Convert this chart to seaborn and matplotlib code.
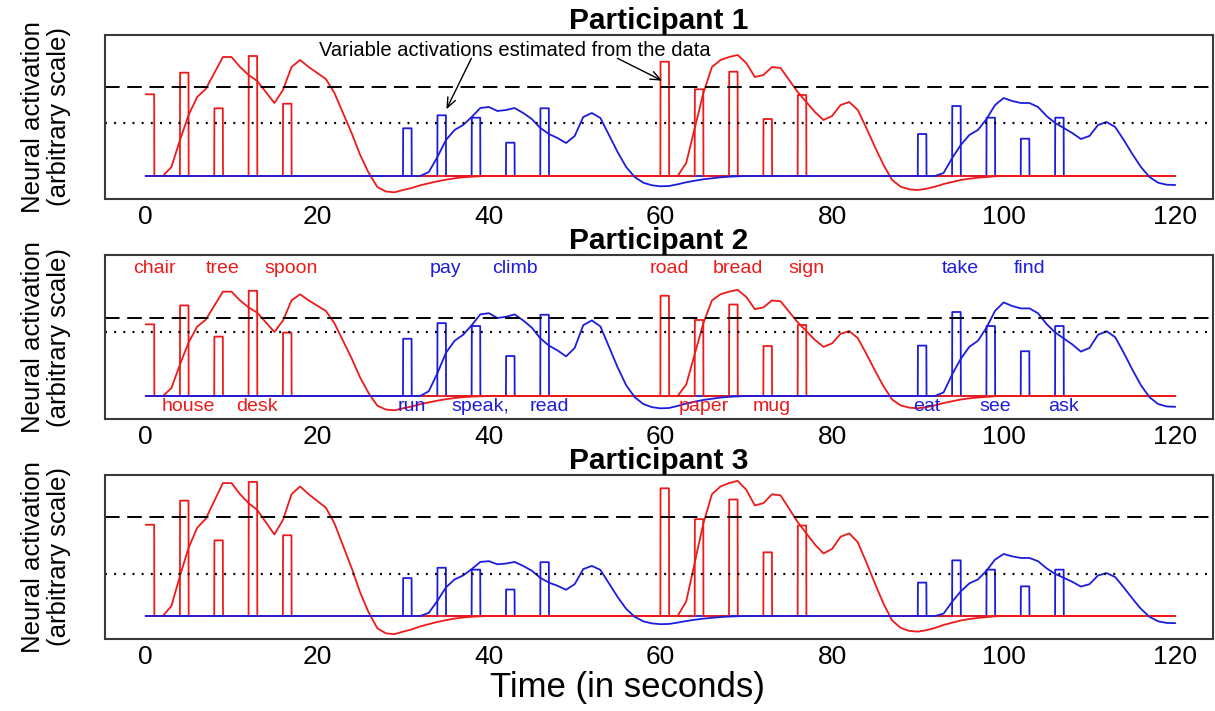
import numpy as np
import pandas as pd
import matplotlib
matplotlib.use("Agg")
import matplotlib.pyplot as plt
import seaborn as sns

# Stimuli: onset (s), estimated activation height, word
red_onsets = [0, 4, 8, 12, 16, 60, 64, 68, 72, 76]
red_heights = [0.817, 1.033, 0.677, 1.20, 0.723, 1.143, 0.867, 1.043, 0.57, 0.81]
red_words = ["chair", "house", "tree", "desk", "spoon", "road", "paper", "bread", "mug", "sign"]

blue_onsets = [30, 34, 38, 42, 46, 90, 94, 98, 102, 106]
blue_heights = [0.477, 0.607, 0.583, 0.333, 0.677, 0.42, 0.70, 0.583, 0.373, 0.583]
blue_words = ["run", "pay", "speak,", "climb", "read", "eat", "take", "see", "find", "ask"]

# Predicted responses, one value per second (0..120)
seconds = list(range(121))
red_curve = (
    [0, 0, 0, 0.09, 0.36, 0.61, 0.79, 0.87, 1.03, 1.19]
    + [1.19, 1.09, 1.01, 0.95, 0.84, 0.73, 0.86, 1.09, 1.16, 1.09]
    + [1.03, 0.97, 0.83, 0.63, 0.43, 0.21, 0.03, -0.11, -0.155, -0.163]
    + [-0.14, -0.12, -0.093, -0.073, -0.053, -0.037, -0.023, -0.013, -0.007, -0.003]
    + [0] * 20
    + [0, 0, 0, 0.13, 0.48, 0.83, 1.09, 1.16, 1.19, 1.21]
    + [1.13, 0.99, 1.01, 1.09, 1.08, 0.96, 0.84, 0.74, 0.64, 0.56]
    + [0.60, 0.71, 0.74, 0.66, 0.48, 0.29, 0.11, -0.04, -0.107, -0.133]
    + [-0.14, -0.127, -0.107, -0.08, -0.06, -0.04, -0.027, -0.017, -0.01, -0.003]
    + [0] * 21
)
blue_curve = (
    [0] * 30
    + [0, 0, 0, 0.04, 0.19, 0.36, 0.46, 0.51, 0.59, 0.68]
    + [0.69, 0.65, 0.66, 0.68, 0.63, 0.57, 0.48, 0.42, 0.38, 0.33]
    + [0.40, 0.59, 0.63, 0.58, 0.41, 0.24, 0.09, -0.01, -0.067, -0.093]
    + [-0.103, -0.10, -0.083, -0.063, -0.047, -0.033, -0.023, -0.013, -0.007, -0.003]
    + [0] * 20
    + [0, 0, 0, 0.03, 0.18, 0.31, 0.41, 0.46, 0.57, 0.71]
    + [0.78, 0.75, 0.73, 0.73, 0.69, 0.60, 0.53, 0.48, 0.43, 0.37]
    + [0.40, 0.51, 0.54, 0.49, 0.36, 0.22, 0.09, -0.01, -0.067, -0.087]
    + [-0.09]
)

# per participant scaling of the two conditions
red_gain = [1.0, 0.877, 1.117]
blue_gain = [1.0, 1.20, 0.795]
red_threshold = 0.888
blue_threshold = 0.532

RED = "#ee1a1a"
BLUE = "#1c1cdc"

sns.set_theme(style="white")
plt.rcParams["font.family"] = ["Liberation Sans", "DejaVu Sans"]
plt.rcParams["lines.scale_dashes"] = False
plt.rcParams["text.color"] = "black"
plt.rcParams["axes.titlecolor"] = "black"

t_fine = np.round(np.arange(0, 120.0001, 0.01), 2)


def boxcar(onsets, heights, gain):
    y = np.zeros_like(t_fine)
    for on, h in zip(onsets, heights):
        y[(t_fine >= on) & (t_fine < on + 1)] = h * gain
    return y


fig = plt.figure(figsize=(12.15, 7.11), dpi=100)
W, H = 1215, 711
left = 104.5 / W
width = (1213 - 104.5) / W
tops = [35, 255, 475]
ph = 164

for i in range(3):
    ax = fig.add_axes([left, 1 - (tops[i] + ph) / H, width, ph / H])
    gr, gb = red_gain[i], blue_gain[i]

    sns.lineplot(x=t_fine, y=boxcar(blue_onsets, blue_heights, gb), color=BLUE,
                 lw=1.3, estimator=None, sort=False, ax=ax)
    sns.lineplot(x=t_fine, y=boxcar(red_onsets, red_heights, gr), color=RED,
                 lw=1.3, estimator=None, sort=False, ax=ax)
    sns.lineplot(x=seconds, y=np.array(red_curve) * gr, color=RED,
                 lw=1.3, estimator=None, sort=False, ax=ax)
    sns.lineplot(x=seconds, y=np.array(blue_curve) * gb, color=BLUE,
                 lw=1.3, estimator=None, sort=False, ax=ax)

    ax.axhline(red_threshold * gr, color="black", lw=1.4, ls=(0, (10.5, 5.5)))
    ax.axhline(blue_threshold * gb, color="black", lw=1.6, ls=(0, (1.4, 5.2)))

    ax.set_xlim(-4.8, 124.4)
    ax.set_ylim(-0.23, 1.41)
    ax.set_xticks([0, 20, 40, 60, 80, 100, 120])
    ax.set_yticks([])
    ax.tick_params(axis="x", length=0, pad=4, labelsize=19, labelcolor="black")
    for s in ax.spines.values():
        s.set_color("#3a3a3a")
        s.set_linewidth(1.5)
    ax.set_title(f"Participant {i + 1}", fontsize=21.5, fontweight="bold", pad=4)
    ax.set_xlabel("")
    ax.set_ylabel("")

    yc = 1 - (tops[i] + ph / 2) / H
    fig.text(46 / W, yc, "Neural activation\n(arbitrary scale)", rotation=90,
             ha="center", va="center", multialignment="center",
             fontsize=18.5, linespacing=1.15)

    if i == 0:
        ax.text(43.0, 1.25, "Variable activations estimated from the data",
                ha="center", va="center", fontsize=14.5)
        arrow = dict(arrowstyle="->,head_length=0.6,head_width=0.25", lw=1,
                     color="black", shrinkA=0, shrinkB=0)
        ax.annotate("", xy=(35.05, 0.667), xytext=(37.96, 1.177), arrowprops=arrow)
        ax.annotate("", xy=(60.2, 0.953), xytext=(54.99, 1.177), arrowprops=arrow)

    if i == 1:
        # words alternate above/below within each block of five
        for k, (on, w) in enumerate(zip(red_onsets, red_words)):
            ax.text(on + 1, 1.27 if (k % 5) % 2 == 0 else -0.11, w, color=RED,
                    ha="center", va="center", fontsize=14)
        for k, (on, w) in enumerate(zip(blue_onsets, blue_words)):
            ax.text(on + 1, 1.27 if (k % 5) % 2 == 1 else -0.11, w, color=BLUE,
                    ha="center", va="center", fontsize=14)

fig.text(627 / W, 1 - 688 / H, "Time (in seconds)", ha="center", va="center",
         fontsize=25)

fig.savefig("out.png", dpi=100)
